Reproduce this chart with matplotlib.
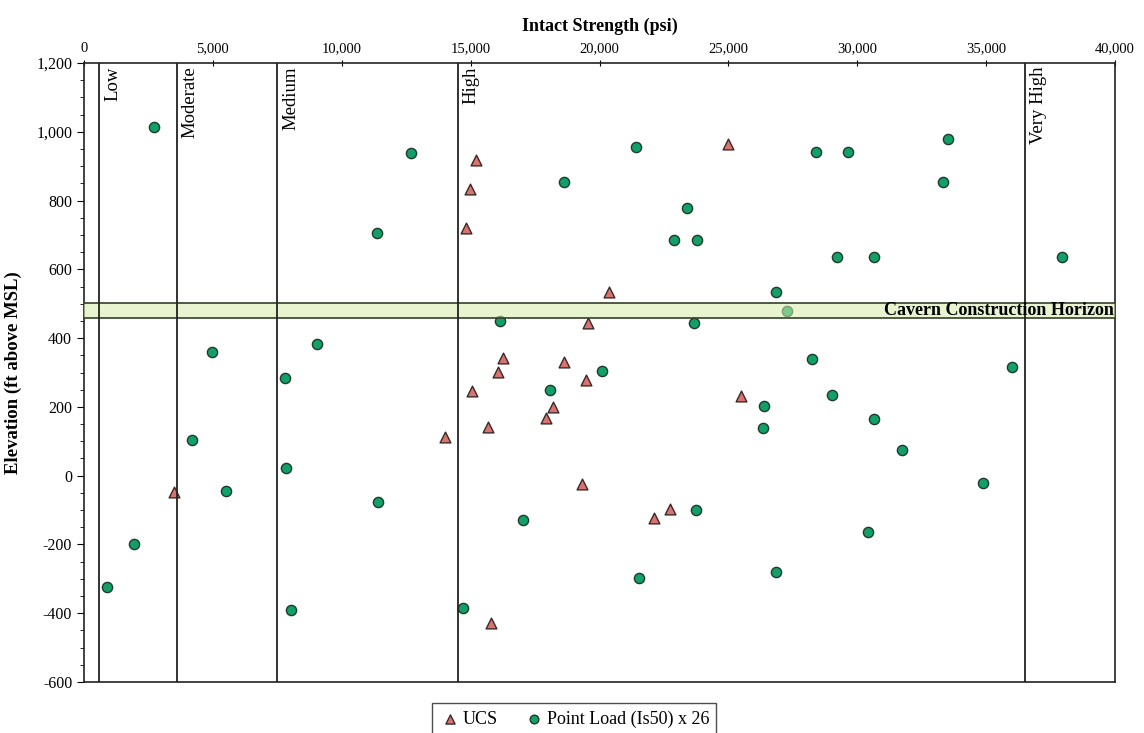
import matplotlib
matplotlib.use("Agg")
import matplotlib.pyplot as plt
from matplotlib.ticker import MultipleLocator, FuncFormatter

plt.rcParams['font.family'] = ['Liberation Serif', 'DejaVu Serif']

# UCS test results: intact strength (psi) vs elevation (ft above MSL)
ucs_strength = [3492, 15209, 14988, 14808, 24998, 20369, 19542, 16243, 16049,
                18612, 19464, 15041, 18185, 17924, 15661, 14006, 25503, 19309,
                22114, 22735, 15777]
ucs_elev = [-48, 918, 834, 721, 964, 533, 443, 341, 302,
            331, 277, 247, 201, 169, 142, 112, 232, -24,
            -124, -96, -429]

# Point load index (Is50) x 26 results
pl_strength = [2716, 4954, 4178, 9052, 7798, 7837, 5509, 1928, 905, 8031,
               11420, 11367, 12687, 21416, 18635, 23406, 22878, 23795, 33508,
               28400, 29655, 33339, 29228, 30662, 37932, 26848, 27287, 16153,
               23666, 20085, 18080, 26395, 26343, 28257, 35990, 29021, 30662,
               31723, 17018, 23744, 21520, 26860, 14692, 34866, 30430]
pl_elev = [1015, 360, 104, 383, 285, 21, -46, -198, -324, -392,
           -76, 705, 938, 957, 854, 778, 684, 684, 979,
           940, 940, 853, 635, 635, 635, 533, 479, 450,
           445, 304, 249, 203, 138, 338, 316, 234, 166,
           75, -130, -101, -298, -280, -384, -22, -165]

# Strength class boundaries (psi) and their labels
class_bounds = [600, 3600, 7500, 14500, 36500]
class_labels = ["Low", "Moderate", "Medium", "High", "Very High"]

# Cavern construction horizon (elevation range, ft)
horizon_low, horizon_high = 458, 503

fig = plt.figure(figsize=(11.44, 7.33), dpi=100)
ax = fig.add_axes([0.0734, 0.0696, 0.9013, 0.8444])

ax.set_xlim(0, 40000)
ax.set_ylim(-600, 1200)

ax.scatter(ucs_strength, ucs_elev, marker='^', s=60, c='#d9736f',
           edgecolors='#3a2a2a', linewidths=1.0, zorder=3, label='UCS')
ax.scatter(pl_strength, pl_elev, marker='o', s=54, c='#12a06a',
           edgecolors='#1d3a2a', linewidths=1.0, zorder=3,
           label='Point Load (Is50) x 26')

# Horizon band drawn over the points
ax.axhspan(horizon_low, horizon_high, facecolor='#d6ecaa', alpha=0.55,
           edgecolor='none', zorder=4)
ax.axhline(horizon_low, color='#33402a', lw=1.2, zorder=5)
ax.axhline(horizon_high, color='#33402a', lw=1.2, zorder=5)
ax.text(39950, (horizon_low + horizon_high) / 2, "Cavern Construction Horizon",
        ha='right', va='center', fontsize=13, fontweight='bold', zorder=6)

for xb, lab in zip(class_bounds, class_labels):
    ax.axvline(xb, color='#222222', lw=1.3, zorder=5)
    ax.text(xb + 200, 1190, lab, rotation=90, ha='left', va='top',
            fontsize=13.5, zorder=6)

ax.xaxis.tick_top()
ax.xaxis.set_label_position('top')
ax.xaxis.set_major_locator(MultipleLocator(5000))
ax.yaxis.set_major_locator(MultipleLocator(200))
ax.yaxis.set_minor_locator(MultipleLocator(50))
fmt = FuncFormatter(lambda v, p: f"{int(v):,}")
ax.xaxis.set_major_formatter(fmt)
ax.yaxis.set_major_formatter(fmt)
ax.tick_params(axis='x', which='major', direction='inout', length=5,
               labelsize=10.5, pad=3)
ax.tick_params(axis='y', which='major', direction='out', length=5,
               labelsize=11.5)
ax.tick_params(axis='y', which='minor', direction='out', length=3)
for s in ax.spines.values():
    s.set_linewidth(1.2)
    s.set_color('#222222')

ax.set_xlabel("Intact Strength (psi)", fontsize=13, fontweight='bold',
              labelpad=8)
ax.set_ylabel("Elevation (ft above MSL)", fontsize=13.5, fontweight='bold',
              labelpad=10)

leg = fig.legend(loc='center', bbox_to_anchor=(0.502, 0.019), ncol=2,
                 fontsize=13, frameon=True, fancybox=False,
                 edgecolor='#222222', handletextpad=0.1, columnspacing=1.4,
                 borderpad=0.4, handlelength=1.2, markerscale=0.85)
leg.get_frame().set_linewidth(1.0)

fig.savefig("out.png", dpi=100, facecolor='white')
